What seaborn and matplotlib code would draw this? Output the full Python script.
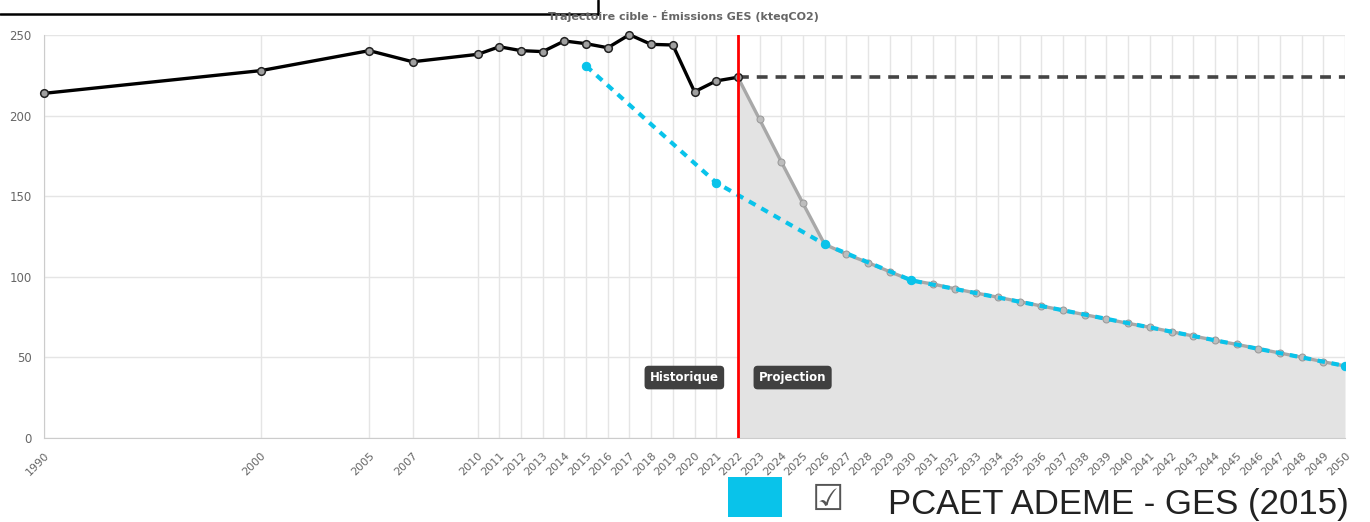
import numpy as np
import pandas as pd
import matplotlib
matplotlib.use('Agg')
import matplotlib.pyplot as plt
from matplotlib.lines import Line2D
from matplotlib.patches import Rectangle
import seaborn as sns

# historical emissions (kteqCO2)
hist_years = [1990, 2000, 2005, 2007, 2010, 2011, 2012, 2013, 2014, 2015,
              2016, 2017, 2018, 2019, 2020, 2021, 2022]
hist_values = [213.8, 227.9, 240.3, 233.4, 238.0, 242.7, 240.3, 239.7, 246.3, 244.6,
               242.1, 250.2, 244.2, 243.8, 214.8, 221.5, 223.8]

# projected trajectory 2022 -> 2050
proj_years = list(range(2022, 2051))
proj_values = [223.8, 197.7, 171.4, 145.6, 120.2, 114.1, 108.8, 103.2, 97.8, 95.5,
               92.6, 89.9, 87.3, 84.6, 81.9, 79.2, 76.5, 73.8, 71.1, 68.7,
               65.9, 63.3, 60.6, 58.1, 55.4, 52.7, 50.1, 47.3, 44.7]

# PCAET ADEME target points
pcaet_years = [2015, 2021, 2026, 2030, 2050]
pcaet_values = [230.8, 158.4, 120.2, 97.8, 44.7]

# flat reference line from last known value
ref_years = [2022, 2050]
ref_values = [223.8, 223.8]

tick_years = [1990, 2000, 2005, 2007] + list(range(2010, 2051))
y_ticks = [0, 50, 100, 150, 200, 250]

hist = pd.DataFrame({'year': hist_years, 'value': hist_values})
proj = pd.DataFrame({'year': proj_years, 'value': proj_values})
pcaet = pd.DataFrame({'year': pcaet_years, 'value': pcaet_values})
ref = pd.DataFrame({'year': ref_years, 'value': ref_values})

sns.set_style('white')
plt.rcParams['font.family'] = ['DejaVu Sans']

fig = plt.figure(figsize=(13.7, 5.22), dpi=100)
ax = fig.add_axes([44 / 1370, 84 / 522, 1301 / 1370, 403 / 522])

cyan = '#09c3ea'

ax.fill_between(proj['year'], 0, proj['value'], color='#e3e3e3', zorder=1, linewidth=0)

sns.lineplot(data=ref, x='year', y='value', ax=ax, color='#444444', linewidth=2.6,
             linestyle=(0, (3, 2.2)), zorder=3)
sns.lineplot(data=proj, x='year', y='value', ax=ax, color='#a8a8a8', linewidth=2.4,
             marker='o', markersize=5, markerfacecolor='#bdbdbd', markeredgecolor='#9a9a9a',
             zorder=4)
sns.lineplot(data=pcaet, x='year', y='value', ax=ax, color=cyan, linewidth=3,
             linestyle=(0, (1.8, 1.6)), marker='o', markersize=6, markerfacecolor=cyan,
             markeredgecolor=cyan, zorder=5)
sns.lineplot(data=hist, x='year', y='value', ax=ax, color='black', linewidth=2.4,
             marker='o', markersize=5.5, markerfacecolor='#a0a0a0', markeredgecolor='#222222',
             markeredgewidth=1.1, zorder=6, clip_on=False)

ax.axvline(2022, color='#ff0000', linewidth=2, zorder=7)

box = dict(boxstyle='round,pad=0.45,rounding_size=0.35', facecolor='#404040', edgecolor='none')
ax.annotate('Historique', xy=(2022, 37.5), xytext=(-19, 0), textcoords='offset pixels',
            ha='right', va='center', color='white', fontsize=8.5, fontweight='bold',
            bbox=box, zorder=8)
ax.annotate('Projection', xy=(2022, 37.5), xytext=(21, 0), textcoords='offset pixels',
            ha='left', va='center', color='white', fontsize=8.5, fontweight='bold',
            bbox=box, zorder=8)

ax.set_xlim(1990, 2050)
ax.set_ylim(0, 250)
ax.set_xticks(tick_years)
ax.set_xticklabels([str(y) for y in tick_years], rotation=45, ha='right',
                   rotation_mode='anchor', fontsize=8)
ax.set_yticks(y_ticks)
ax.set_xlabel('')
ax.set_ylabel('')
ax.grid(True, color='#e5e5e5', linewidth=1)
ax.set_axisbelow(True)
ax.tick_params(axis='both', length=6, color='#dddddd', labelcolor='#666666', pad=3)
ax.tick_params(axis='y', labelsize=8.5)
for side in ['top', 'right']:
    ax.spines[side].set_visible(False)
for side in ['left', 'bottom']:
    ax.spines[side].set_color('#cccccc')

fig.text(0.4985, 1 - 16 / 522, 'Trajectoire cible - Émissions GES (kteqCO2)',
         ha='center', va='center', fontsize=8, fontweight='bold', color='#666666')

# screenshot border fragment at top-left
fig.add_artist(Line2D([0, 598 / 1370], [1 - 14 / 522, 1 - 14 / 522], color='black', linewidth=1.8))
fig.add_artist(Line2D([598 / 1370, 598 / 1370], [1 - 14 / 522, 1], color='black', linewidth=1.8))

# legend strip below
fig.add_artist(Rectangle((728 / 1370, 1 - 517 / 522), 54 / 1370, 40 / 522,
                         facecolor=cyan, edgecolor='none', transform=fig.transFigure))
fig.text(828 / 1370, 1 - 500 / 522, '\u2611', ha='center', va='center', fontsize=26,
         color='#555555')
fig.text(888 / 1370, 1 - 514 / 522, 'PCAET ADEME - GES (2015)', ha='left', va='baseline',
         fontsize=25, color='#222222',
         family=['Liberation Sans Narrow', 'Liberation Sans', 'DejaVu Sans'])

fig.savefig('out.png', dpi=100)
